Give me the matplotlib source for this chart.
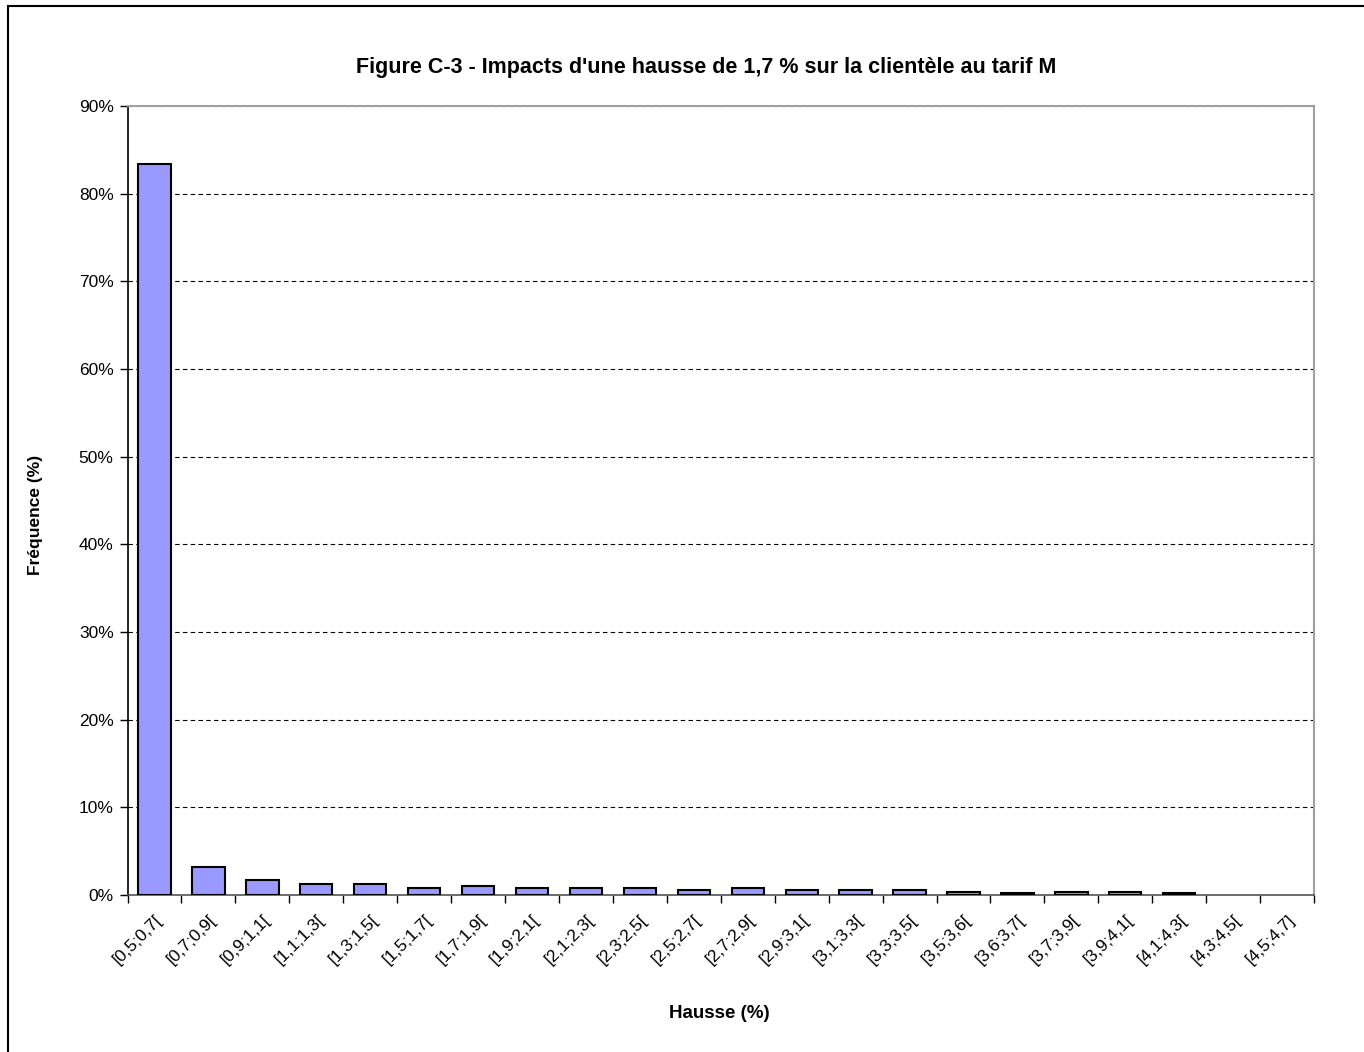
import numpy as np
import matplotlib
matplotlib.use("Agg")
import matplotlib.pyplot as plt
from matplotlib.patches import Rectangle

plt.rcParams['font.family'] = ['Liberation Sans', 'DejaVu Sans']

# classes de hausse et fréquences (%)
classes = ["[0,5;0,7[", "[0,7;0,9[", "[0,9;1,1[", "[1,1;1,3[", "[1,3;1,5[",
           "[1,5;1,7[", "[1,7;1,9[", "[1,9;2,1[", "[2,1;2,3[", "[2,3;2,5[",
           "[2,5;2,7[", "[2,7;2,9[", "[2,9;3,1[", "[3,1;3,3[", "[3,3;3,5[",
           "[3,5;3,6[", "[3,6;3,7[", "[3,7;3,9[", "[3,9;4,1[", "[4,1;4,3[",
           "[4,3;4,5[", "[4,5;4,7]"]
frequence = [83.4, 3.2, 1.7, 1.25, 1.25, 0.8, 1.0, 0.8, 0.8, 0.8, 0.6,
             0.8, 0.6, 0.6, 0.6, 0.4, 0.2, 0.4, 0.4, 0.2, 0.0, 0.0]
yticks = list(range(0, 100, 10))

fig = plt.figure(figsize=(13.64, 10.52), dpi=100)
ax = fig.add_axes([0.0935, 0.1492, 0.8699, 0.7500])

x = np.arange(len(classes))
# pas de contour pour les classes vides
bords = ["black" if f > 0 else "none" for f in frequence]
ax.bar(x, frequence, width=0.6, color="#9999ff", edgecolor=bords,
       linewidth=1.5, zorder=3)

ax.set_xlim(-0.5, len(classes) - 0.5)
ax.set_ylim(0, 90)
ax.set_yticks(yticks)
ax.set_yticklabels([f"{v}%" for v in yticks], fontsize=12.5)
ax.yaxis.grid(True, linestyle=(0, (4, 3)), color="black", linewidth=0.8)
ax.set_axisbelow(True)

# étiquettes au centre des barres, traits de graduation entre les classes
ax.set_xticks(x)
ax.set_xticklabels(classes, rotation=45, ha="right", va="top",
                   rotation_mode="anchor", fontsize=12.5)
ax.tick_params(axis="x", which="major", length=0, pad=12)
ax.set_xticks(np.arange(-0.5, len(classes), 1), minor=True)
ax.tick_params(axis="x", which="minor", length=6, color="black", width=1)
ax.tick_params(axis="y", length=6, color="black", width=1, pad=4)

for side in ["top", "right"]:
    ax.spines[side].set_color("#a0a0a0")
    ax.spines[side].set_linewidth(1.5)
ax.spines["left"].set_color("black")
ax.spines["left"].set_linewidth(1.2)
ax.spines["bottom"].set_color("#555555")
ax.spines["bottom"].set_linewidth(1.2)

fig.text(0.5176, 0.9354, "Figure C-3 - Impacts d'une hausse de 1,7 % sur la clientèle au tarif M",
         ha="center", va="center", fontsize=15.5, fontweight="bold")
fig.text(0.0257, 0.5105, "Fréquence (%)", rotation=90, ha="center", va="center",
         fontsize=12.5, fontweight="bold")
fig.text(0.527, 0.037, "Hausse (%)", ha="center", va="center",
         fontsize=13.5, fontweight="bold")

# cadre du graphique
fig.patches.append(Rectangle((8 / 1364, -0.05), 1.2, 1 - 6 / 1052 + 0.05,
                             transform=fig.transFigure, fill=False,
                             edgecolor="black", linewidth=1.5))

fig.savefig("out.png", dpi=100)
